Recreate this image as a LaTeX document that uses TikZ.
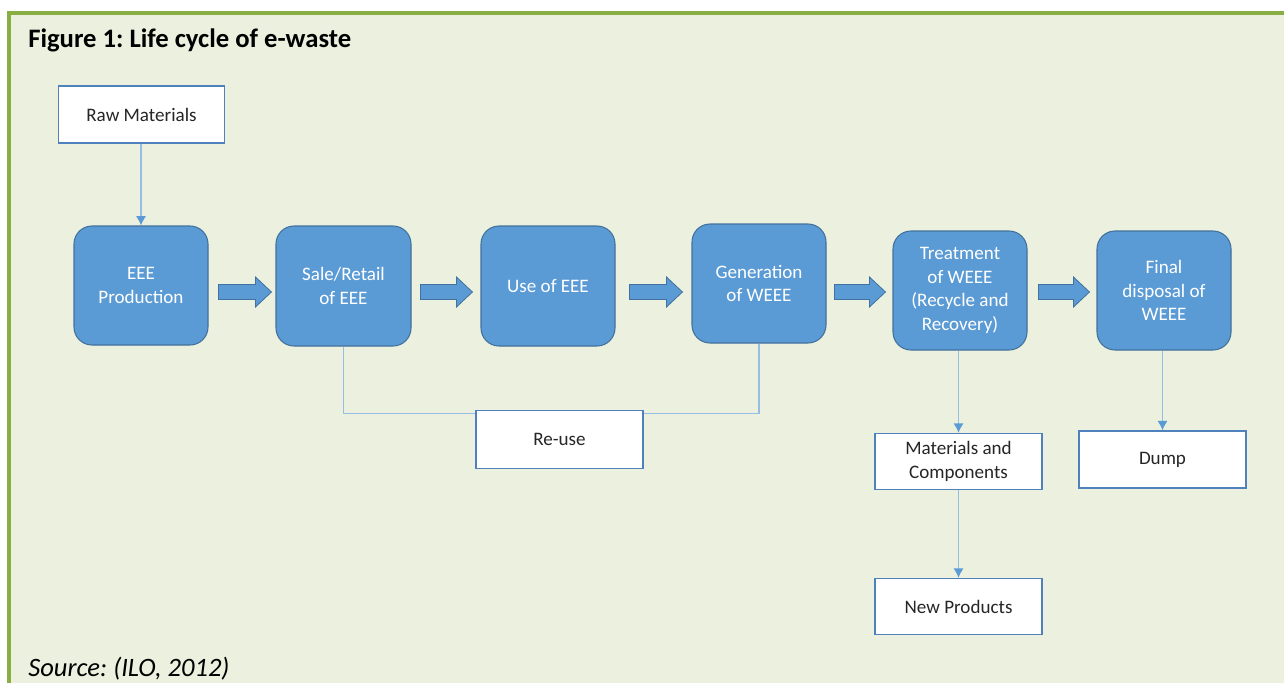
\documentclass[tikz,border=0pt]{standalone}
\usepackage{fontspec}
\setmainfont{Carlito}
\usetikzlibrary{calc,arrows.meta}
\frenchspacing
\def\px{0.75pt}
\definecolor{bgc}{RGB}{235,241,222}
\definecolor{frame}{RGB}{137,174,68}
\definecolor{bluef}{RGB}{91,155,213}
\definecolor{blueb}{RGB}{65,113,156}
\definecolor{whiteb}{RGB}{79,129,189}
\definecolor{thinl}{RGB}{150,190,228}
\tikzset{
  bluebox/.style={draw=blueb, fill=bluef, line width=0.8pt, rounded corners=13.5pt,
    minimum width=134*\px, minimum height=119*\px, inner sep=0pt, text=white,
    align=center, font=\fontsize{14.3}{17.6}\selectfont},
  whitebox/.style={draw=whiteb, fill=white, line width=1.1pt,
    minimum width=167*\px, minimum height=57*\px, inner sep=0pt,
    align=center, text=black!85, font=\fontsize{14.3}{17.8}\selectfont},
  thin/.style={draw=thinl, line width=0.9pt},
  thinarrow/.style={thin, -{Latex[length=7pt,width=7.5pt,color=bluef]}},
  barrow/.style={draw=blueb, fill=bluef, line width=0.6pt},
  caption/.style={anchor=base west, inner sep=0pt}
}
\newcommand\blockarrow[4]{%
  \draw[barrow] let \p1=(#1.east |- ay), \p2=(#2.west |- ay),
     \n1={\x1+#3*\px}, \n2={\x2-#4*\px} in
   (\n1,\y1+5.625pt) -- (\n2-12pt,\y1+5.625pt) -- (\n2-12pt,\y1+11.25pt) -- (\n2,\y1)
   -- (\n2-12pt,\y1-11.25pt) -- (\n2-12pt,\y1-5.625pt) -- (\n1,\y1-5.625pt) -- cycle;}
\begin{document}
\begin{tikzpicture}[x=0.75pt,y=-0.75pt]
\useasboundingbox (0,0) rectangle (1284,683);
\fill[white] (0,0) rectangle (1284,683);
\fill[frame] (7,11) rectangle (1284,683);
\fill[bgc] (11,15) rectangle (1284,683);
\coordinate (ay) at (0,292);

\node[caption, font=\fontsize{20}{22}\selectfont\bfseries] (title) at (28,47) {Figure 1: Life cycle of e-waste};
\node[caption, font=\fontsize{19.9}{22}\selectfont\itshape] (src) at (28,676) {Source: (ILO, 2012)};

\node[whitebox, minimum width=166*\px] (raw) at (141.5,114.5) {Raw Materials};
\node[bluebox] (eee) at (141,285.5) {EEE\\Production};
\node[bluebox, minimum width=135*\px, minimum height=120*\px] (sale) at (343.5,286) {Sale/Retail\\of EEE};
\node[bluebox, minimum height=120*\px] (use) at (548,286) {Use of EEE};
\node[bluebox] (gen) at (759,283.5) {Generation\\of WEEE};
\node[bluebox] (treat) at (960,290.5) {Treatment\\of WEEE\\(Recycle and\\Recovery)};
\node[bluebox] (final) at (1164,290.5) {Final\\disposal of\\WEEE};

\draw[thin] (sale.south) -- ++(0,67) coordinate (r1) -| (gen.south);
\node[whitebox, minimum height=58*\px] (reuse) at (559.5,439.5) {Re-use};
\node[whitebox, minimum height=56*\px] (mat) at (958.5,461.5) {Materials and\\Components};
\node[whitebox] (dump) at (1162.5,459.5) {Dump};
\node[whitebox, minimum height=56*\px] (newp) at (958.5,606.5) {New Products};

\draw[thinarrow] (raw.south -| eee.north) -- (eee.north);
\draw[thinarrow] (treat.south -| mat.north) -- (mat.north);
\draw[thinarrow] (final.south -| dump.north) -- (dump.north);
\draw[thinarrow] (mat.south) -- (newp.north);

\blockarrow{eee}{sale}{10}{4}
\blockarrow{sale}{use}{9}{8}
\blockarrow{use}{gen}{14}{9}
\blockarrow{gen}{treat}{8}{7}
\blockarrow{treat}{final}{11}{7}
\end{tikzpicture}
\end{document}
